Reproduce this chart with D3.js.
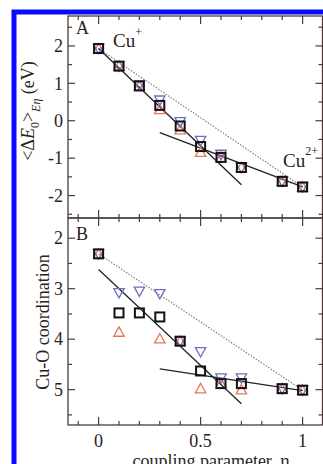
<!DOCTYPE html>
<html><head><meta charset="utf-8">
<script src="https://cdn.jsdelivr.net/npm/d3@7"></script>
<style>body{margin:0;background:#fff;overflow:hidden}svg{display:block}</style>
</head><body>
<script>
const eta = [0, 0.1, 0.2, 0.3, 0.4, 0.5, 0.6, 0.7, 0.9, 1.0];
// Panel A: <ΔE0>Eη (eV)
const aSquares = [1.93, 1.46, 0.93, 0.41, -0.14, -0.69, -0.98, -1.25, -1.62, -1.77];
const aUp      = [1.93, 1.46, 0.93, 0.30, -0.24, -0.84, -0.98, -1.25, -1.62, -1.77];
const aDown    = [1.93, 1.46, 0.96, 0.55, -0.03, -0.53, -0.90, -1.25, -1.62, -1.77];
// Panel B: Cu-O coordination
const bSquares = [2.31, 3.48, 3.48, 3.56, 4.04, 4.63, 4.88, 4.88, 4.98, 5.01];
const bUp      = [2.31, 3.86, null, 3.99, 4.04, 4.98, 4.88, 5.00, 4.98, 5.01];
const bDown    = [2.31, 3.08, 3.05, 3.10, 4.04, 4.25, 4.77, 4.77, 4.98, 5.01];
// fit lines [[x0,y0],[x1,y1]]
const aFit1 = [[0, 1.93], [0.7, -1.71]];
const aFit2 = [[0.3, -0.32], [1.0, -1.77]];
const aDot  = [[0, 1.93], [1.0, -1.77]];
const bFit1 = [[0, 2.62], [0.7, 5.28]];
const bFit2 = [[0.3, 4.59], [1.0, 5.02]];
const bDot  = [[0, 2.31], [1.0, 5.01]];
const xMajor = [0, 0.5, 1];
const xMinor = [-0.1, 0.1, 0.2, 0.3, 0.4, 0.6, 0.7, 0.8, 0.9];
const aMajor = [-2, -1, 0, 1, 2];
const aMinor = [-2.5, -1.5, -0.5, 0.5, 1.5, 2.5];
const bMajor = [2, 3, 4, 5];
const bMinor = [2.5, 3.5, 4.5, 5.5];

const W = 323, H = 464;
const L = 68, R = 322.5, T = 16, M = 218, B = 425;
const FONT = "'Liberation Serif', 'Times New Roman', 'DejaVu Serif', serif";
const svg = d3.select("body").append("svg").attr("width", W).attr("height", H)
  .attr("font-family", FONT).attr("fill", "#2a2222");
const x = d3.scaleLinear([-0.15, 1.1], [L, 323]);
const yA = d3.scaleLinear([-2.6, 2.8], [M, T]);
const yB = d3.scaleLinear([1.6, 5.7], [M, B]);
const axisCol = "#4a3c3c";

function frame(y, top, bottom) {
  const g = svg.append("g");
  g.append("rect").attr("x", L).attr("y", top).attr("width", R - L).attr("height", bottom - top)
    .attr("fill", "none").attr("stroke", axisCol).attr("stroke-width", 1.3);
  const tk = g.append("g").attr("stroke", axisCol).attr("stroke-width", 1.2);
  [[top, 1], [bottom, -1]].forEach(([yy, dir]) => {
    tk.selectAll(null).data(xMajor).join("line")
      .attr("x1", d => x(d)).attr("x2", d => x(d)).attr("y1", yy).attr("y2", yy + dir * 8);
    tk.selectAll(null).data(xMinor).join("line")
      .attr("x1", d => x(d)).attr("x2", d => x(d)).attr("y1", yy).attr("y2", yy + dir * 4);
  });
  return { g, tk };
}

function yTicks(tk, y, major, minor) {
  [[L, 1], [R, -1]].forEach(([xx, dir]) => {
    tk.selectAll(null).data(major).join("line")
      .attr("y1", d => y(d)).attr("y2", d => y(d)).attr("x1", xx).attr("x2", xx + dir * 7);
    tk.selectAll(null).data(minor).join("line")
      .attr("y1", d => y(d)).attr("y2", d => y(d)).attr("x1", xx).attr("x2", xx + dir * 4);
  });
}

const fA = frame(yA, T, M);
yTicks(fA.tk, yA, aMajor, aMinor);
const fB = frame(yB, M, B);
yTicks(fB.tk, yB, bMajor, bMinor);

// y tick labels
svg.append("g").selectAll("text").data(aMajor).join("text")
  .attr("x", 63).attr("y", d => yA(d)).attr("dy", "0.35em").attr("text-anchor", "end")
  .attr("font-size", 18).text(d => d);
svg.append("g").selectAll("text").data(bMajor).join("text")
  .attr("x", 63).attr("y", d => yB(d)).attr("dy", "0.35em").attr("text-anchor", "end")
  .attr("font-size", 18).text(d => d);
// x tick labels
svg.append("g").selectAll("text").data(xMajor).join("text")
  .attr("x", d => x(d)).attr("y", 447).attr("text-anchor", "middle")
  .attr("font-size", 18).text(d => d);

const line = (y) => d3.line().x(d => x(d[0])).y(d => y(d[1]));

function panel(y, fit1, fit2, dot, sq, up, down) {
  const g = svg.append("g");
  g.append("path").attr("d", line(y)(dot)).attr("fill", "none").attr("stroke", "#777")
    .attr("stroke-width", 1.1).attr("stroke-dasharray", "1.5,1.5");
  [fit1, fit2].forEach(f => g.append("path").attr("d", line(y)(f)).attr("fill", "none")
    .attr("stroke", "#222").attr("stroke-width", 1.3));
  const pts = (arr) => eta.map((e, i) => [e, arr[i]]).filter(d => d[1] != null);
  const tri = 5.2;
  g.selectAll(null).data(pts(up)).join("path")
    .attr("d", d => { const cx = x(d[0]), cy = y(d[1]);
      return `M${cx},${cy - tri}L${cx + tri},${cy + tri * 0.8}L${cx - tri},${cy + tri * 0.8}Z`; })
    .attr("fill", "none").attr("stroke", "#e8755c").attr("stroke-width", 1.3);
  g.selectAll(null).data(pts(down)).join("path")
    .attr("d", d => { const cx = x(d[0]), cy = y(d[1]);
      return `M${cx},${cy + tri}L${cx + tri},${cy - tri * 0.8}L${cx - tri},${cy - tri * 0.8}Z`; })
    .attr("fill", "none").attr("stroke", "#6d70c0").attr("stroke-width", 1.3);
  g.selectAll(null).data(pts(sq)).join("rect")
    .attr("x", d => x(d[0]) - 4.5).attr("y", d => y(d[1]) - 4.5).attr("width", 9).attr("height", 9)
    .attr("fill", "none").attr("stroke", "#111").attr("stroke-width", 2);
}
panel(yA, aFit1, aFit2, aDot, aSquares, aUp, aDown);
panel(yB, bFit1, bFit2, bDot, bSquares, bUp, bDown);

// panel letters and annotations
svg.append("text").attr("x", 76).attr("y", 34).attr("font-size", 18).text("A");
svg.append("text").attr("x", 76).attr("y", 240).attr("font-size", 18).text("B");
const cu1 = svg.append("text").attr("x", 113).attr("y", 47).attr("font-size", 19);
cu1.append("tspan").text("Cu");
cu1.append("tspan").attr("dy", -11).attr("font-size", 12).text("+");
const cu2 = svg.append("text").attr("x", 283).attr("y", 167).attr("font-size", 19);
cu2.append("tspan").text("Cu");
cu2.append("tspan").attr("dy", -12).attr("font-size", 12).text("2+");

// y axis titles
const ta = svg.append("text").attr("transform", "translate(34,111) rotate(-90)")
  .attr("text-anchor", "middle").attr("font-size", 18);
ta.append("tspan").text("<Δ");
ta.append("tspan").attr("font-style", "italic").text("E");
ta.append("tspan").attr("dy", 5).attr("font-size", 12).text("0");
ta.append("tspan").attr("dy", -5).text(">");
ta.append("tspan").attr("dy", 6).attr("font-size", 12).attr("font-style", "italic").text("Eη");
ta.append("tspan").attr("dy", -6).text(" (eV)");
svg.append("text").attr("transform", "translate(49,322) rotate(-90)")
  .attr("text-anchor", "middle").attr("font-size", 18).text("Cu-O coordination");
svg.append("text").attr("x", 211).attr("y", 467).attr("text-anchor", "middle")
  .attr("font-size", 18).text("coupling parameter, η");

// blue border
svg.append("rect").attr("x", 14).attr("y", 12).attr("width", 330).attr("height", 480)
  .attr("fill", "none").attr("stroke", "#0a0aff").attr("stroke-width", 5);
</script>
</body></html>
